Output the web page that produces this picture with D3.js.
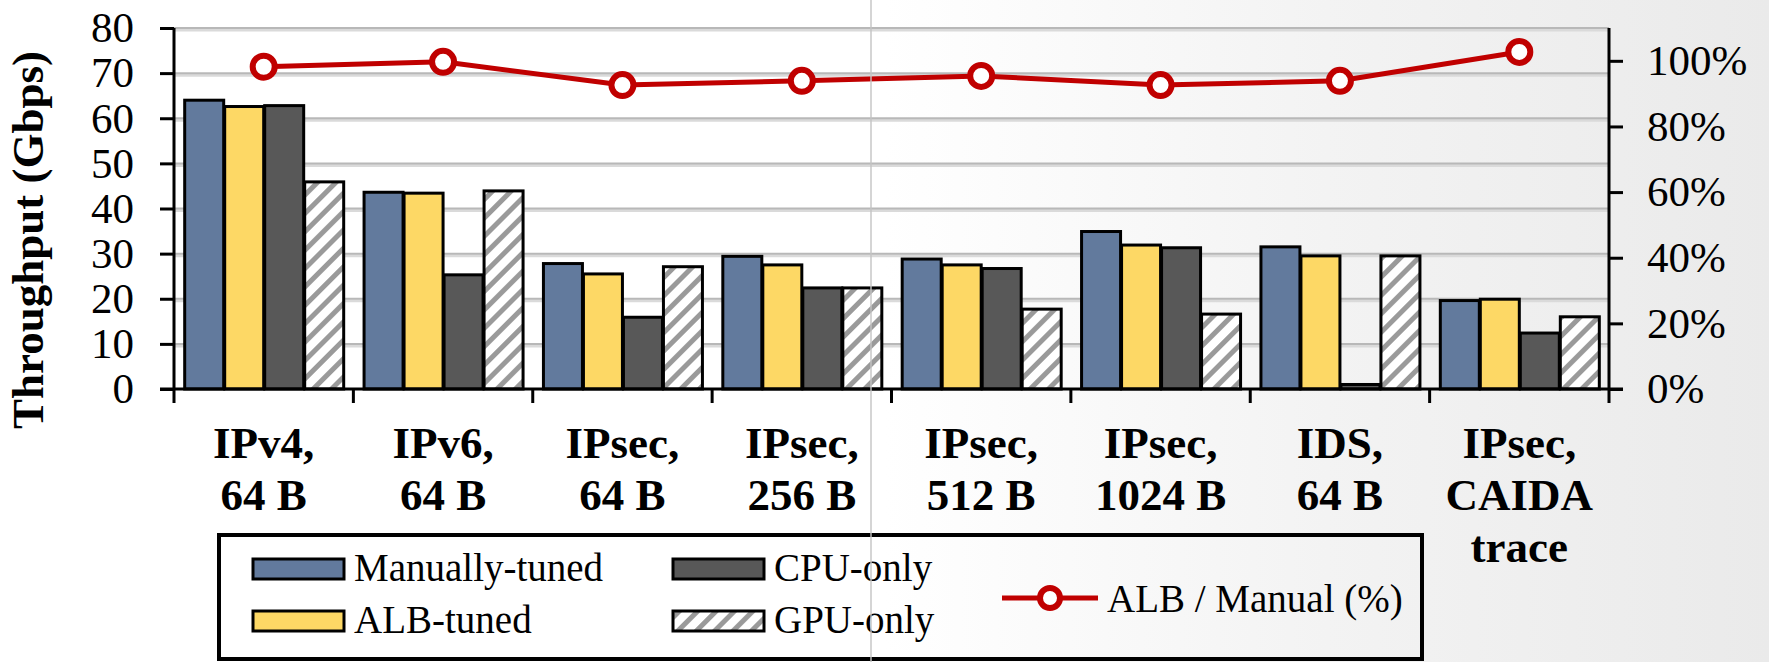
<!DOCTYPE html>
<html>
<head>
<meta charset="utf-8">
<script src="https://cdn.jsdelivr.net/npm/d3@7/dist/d3.min.js"></script>
<style>
  html, body { margin: 0; padding: 0; background: #fff; }
  svg { display: block; }
</style>
</head>
<body>
<svg id="chart" width="1769" height="662"></svg>
<script>
// ---- data ----
const categories = ["IPv4,\n64 B", "IPv6,\n64 B", "IPsec,\n64 B", "IPsec,\n256 B", "IPsec,\n512 B", "IPsec,\n1024 B", "IDS,\n64 B", "IPsec,\nCAIDA\ntrace"];
const seriesNames = ["Manually-tuned", "ALB-tuned", "CPU-only", "GPU-only"];
const manualTuned = [64.0, 43.6, 27.8, 29.4, 28.8, 34.9, 31.5, 19.6];
const albTuned    = [62.6, 43.4, 25.5, 27.5, 27.5, 31.9, 29.5, 19.9];
const cpuOnly     = [62.8, 25.3, 15.9, 22.4, 26.7, 31.3, 1.0, 12.4];
const gpuOnly     = [45.9, 43.9, 27.1, 22.4, 17.7, 16.6, 29.5, 16.0];
const lineName = "ALB / Manual (%)";
const albOverManual = [98.2, 99.7, 92.6, 93.9, 95.4, 92.6, 93.9, 102.7];
const leftTicks = [0, 10, 20, 30, 40, 50, 60, 70, 80];
const rightTicks = [0, 20, 40, 60, 80, 100];

const seriesValues = [manualTuned, albTuned, cpuOnly, gpuOnly];
const fills = ["#627a9d", "#fdd865", "#585858", "url(#hatch)"];
const FONT = "'Liberation Serif', 'Times New Roman', serif";

const svg = d3.select("#chart");
const defs = svg.append("defs");

// background gradient
const grad = defs.append("linearGradient").attr("id", "bg").attr("x1", "0").attr("x2", "1").attr("y1", "0").attr("y2", "0");
grad.append("stop").attr("offset", "0.5").attr("stop-color", "#ffffff");
grad.append("stop").attr("offset", "0.75").attr("stop-color", "#f3f3f3");
grad.append("stop").attr("offset", "1").attr("stop-color", "#eaeaea");
svg.append("rect").attr("width", 1769).attr("height", 662).attr("fill", "url(#bg)");

// hatch pattern
const pat = defs.append("pattern").attr("id", "hatch").attr("patternUnits", "userSpaceOnUse")
  .attr("width", 13).attr("height", 13).attr("patternTransform", "rotate(45)");
pat.append("rect").attr("width", 13).attr("height", 13).attr("fill", "#ffffff");
pat.append("rect").attr("x", 0).attr("width", 5).attr("height", 13).attr("fill", "#9a9a9a");

// ---- scales ----
const L = 174, R = 1609, T = 28, B = 389;
const y = d3.scaleLinear().domain([0, 80]).range([B, T]);
const y2 = d3.scaleLinear().domain([0, 110]).range([B, T]);
const x0 = d3.scaleBand().domain(d3.range(categories.length)).range([L, R]).padding(0);
const groupW = 160;
const x1 = d3.scaleBand().domain(d3.range(seriesNames.length)).range([0, groupW]).padding(0);
const off = (x0.bandwidth() - groupW) / 2;

// ---- gridlines ----
const grid = svg.append("g");
leftTicks.filter(t => t > 0).forEach(t => {
  grid.append("line").attr("x1", L).attr("x2", R).attr("y1", y(t) + 2).attr("y2", y(t) + 2)
    .attr("stroke", "#dadada").attr("stroke-width", 3);
  grid.append("line").attr("x1", L).attr("x2", R).attr("y1", y(t)).attr("y2", y(t))
    .attr("stroke", "#b8b8b8").attr("stroke-width", 2);
});

// ---- bars ----
seriesValues.forEach((vals, si) => {
  svg.append("g").selectAll("rect").data(vals).join("rect")
    .attr("x", (d, i) => x0(i) + off + x1(si) + 1)
    .attr("width", x1.bandwidth() - 1)
    .attr("y", d => y(d))
    .attr("height", d => y(0) - y(d))
    .attr("fill", fills[si])
    .attr("stroke", "#000")
    .attr("stroke-width", 3);
});

// ---- axes ----
const axL = svg.append("g").attr("transform", `translate(${L},0)`)
  .call(d3.axisLeft(y).tickValues(leftTicks).tickSize(14).tickPadding(26).tickFormat(d3.format("d")));
const axR = svg.append("g").attr("transform", `translate(${R},0)`)
  .call(d3.axisRight(y2).tickValues(rightTicks).tickSize(14).tickPadding(24).tickFormat(d => d + "%"));
[axL, axR].forEach(a => {
  a.attr("font-family", null);
  a.select(".domain").remove();
  a.selectAll(".tick line").attr("stroke", "#000").attr("stroke-width", 3);
  a.selectAll(".tick text").style("font-size", "43px").style("font-family", FONT).attr("fill", "#000");
});
// axis lines
svg.append("line").attr("x1", L).attr("x2", L).attr("y1", T).attr("y2", B + 14).attr("stroke", "#000").attr("stroke-width", 3);
svg.append("line").attr("x1", R).attr("x2", R).attr("y1", T).attr("y2", B + 14).attr("stroke", "#000").attr("stroke-width", 3);
svg.append("line").attr("x1", L - 14).attr("x2", R + 14).attr("y1", B).attr("y2", B).attr("stroke", "#000").attr("stroke-width", 3);
// category ticks
svg.append("g").selectAll("line").data(d3.range(1, categories.length)).join("line")
  .attr("x1", i => x0(i)).attr("x2", i => x0(i)).attr("y1", B).attr("y2", B + 14)
  .attr("stroke", "#000").attr("stroke-width", 3);

// category labels
const catG = svg.append("g");
categories.forEach((c, i) => {
  const cx = x0(i) + x0.bandwidth() / 2;
  const t = catG.append("text").attr("x", cx).attr("y", 458)
    .attr("text-anchor", "middle").style("font-family", FONT).style("font-size", "45px").style("font-weight", "bold");
  c.split("\n").forEach((line, li) => {
    t.append("tspan").attr("x", cx).attr("y", 458 + li * 52).text(line);
  });
});

// y axis title
svg.append("text").attr("transform", "translate(33,240) rotate(-90)")
  .attr("text-anchor", "middle").attr("dominant-baseline", "middle")
  .style("font-family", FONT).style("font-size", "45px").style("font-weight", "bold").text("Throughput (Gbps)");

// ---- line ----
const lineGen = d3.line().x((d, i) => x0(i) + x0.bandwidth() / 2).y(d => y2(d));
svg.append("path").datum(albOverManual).attr("d", lineGen)
  .attr("fill", "none").attr("stroke", "#c00000").attr("stroke-width", 5);
svg.append("g").selectAll("circle").data(albOverManual).join("circle")
  .attr("cx", (d, i) => x0(i) + x0.bandwidth() / 2).attr("cy", d => y2(d)).attr("r", 11)
  .attr("fill", "#fff").attr("stroke", "#c00000").attr("stroke-width", 6);

// ---- legend ----
const lg = svg.append("g");
lg.append("rect").attr("x", 219).attr("y", 535).attr("width", 1203).attr("height", 124)
  .attr("fill", "none").attr("stroke", "#000").attr("stroke-width", 4);
const legPos = [[253, 569], [253, 621], [673, 569], [673, 621]];
seriesNames.forEach((n, i) => {
  const [lx, ly] = legPos[i];
  lg.append("rect").attr("x", lx).attr("y", ly - 10).attr("width", 91).attr("height", 20)
    .attr("fill", fills[i]).attr("stroke", "#000").attr("stroke-width", 3);
  lg.append("text").attr("x", lx + 101).attr("y", ly + 12)
    .style("font-family", FONT).style("font-size", "39px").text(n);
});
lg.append("line").attr("x1", 1002).attr("x2", 1098).attr("y1", 598).attr("y2", 598)
  .attr("stroke", "#c00000").attr("stroke-width", 5);
lg.append("circle").attr("cx", 1050).attr("cy", 598).attr("r", 10)
  .attr("fill", "#fff").attr("stroke", "#c00000").attr("stroke-width", 6);
lg.append("text").attr("x", 1107).attr("y", 612)
  .style("font-family", FONT).style("font-size", "39px").text(lineName);

// faint vertical scan line
svg.append("line").attr("x1", 871).attr("x2", 871).attr("y1", 0).attr("y2", 662)
  .attr("stroke", "#c4c4c4").attr("stroke-width", 2).attr("opacity", 0.7);
</script>
</body>
</html>
